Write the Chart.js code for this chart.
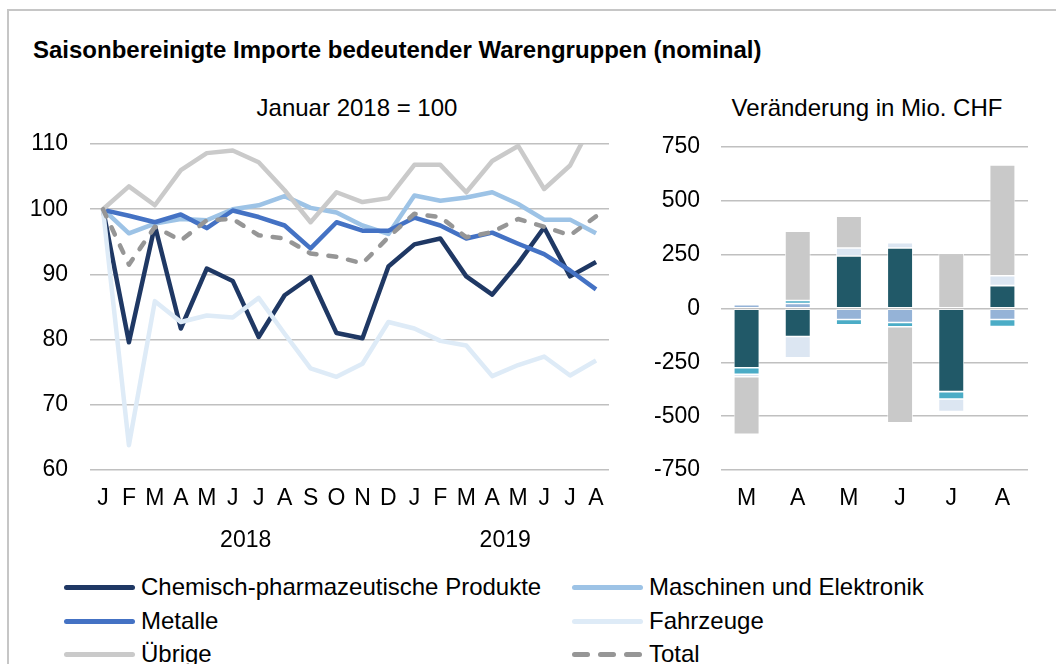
<!DOCTYPE html>
<html>
<head>
<meta charset="utf-8">
<script src="https://cdn.jsdelivr.net/npm/chart.js@4/dist/chart.umd.min.js"></script>
<style>
  body { margin: 0; background: #fff; font-family: 'Liberation Sans', Arial, sans-serif; color: #000; }
  #page { position: relative; width: 1056px; height: 664px; overflow: hidden; }
  #frame { position: absolute; left: 7px; top: 9px; width: 1200px; height: 800px; border: 2px solid #c6c6c6; }
  .abs { position: absolute; white-space: nowrap; }
  #title { left: 33px; top: 36px; font-size: 24px; font-weight: bold; line-height: 28px; }
  .sub { top: 94px; font-size: 24px; line-height: 28px; transform: translateX(-50%); }
  .leg { font-size: 24px; line-height: 28px; }
  .sample { position: absolute; height: 5px; border-radius: 3px; }
  canvas { position: absolute; }
</style>
</head>
<body>
<div id="page">
  <div id="frame"></div>
  <div id="title" class="abs">Saisonbereinigte Importe bedeutender Warengruppen (nominal)</div>
  <div class="abs sub" style="left:357px">Januar 2018 = 100</div>
  <div class="abs sub" style="left:867px">Veränderung in Mio. CHF</div>
  <canvas id="left" width="600" height="440" style="left:20px;top:126px"></canvas>
  <canvas id="right" width="426" height="440" style="left:630px;top:126px"></canvas>
  <div id="legend"></div>
</div>
<script>
const months = ['J', 'F', 'M', 'A', 'M', 'J', 'J', 'A', 'S', 'O', 'N', 'D',
                'J', 'F', 'M', 'A', 'M', 'J', 'J', 'A'];
const years = [{ label: '2018', from: 0, to: 11 }, { label: '2019', from: 12, to: 19 }];

// Januar 2018 = 100
const chemie =    [100, 79.6, 97.5, 81.7, 90.9, 89.0, 80.4, 86.8, 89.6, 81.0, 80.2, 91.2, 94.6, 95.5, 89.7, 86.9, 91.7, 97.2, 89.7, 91.9];
const maschinen = [100, 96.3, 97.8, 98.5, 98.3, 100.0, 100.6, 102.0, 100.2, 99.5, 97.5, 96.2, 102.1, 101.3, 101.8, 102.6, 100.8, 98.4, 98.4, 96.3];
const metalle =   [99.9, 99.0, 98.0, 99.2, 97.1, 99.8, 98.8, 97.5, 94.0, 98.0, 96.7, 96.7, 98.7, 97.5, 95.5, 96.4, 94.7, 93.1, 90.6, 87.7];
const fahrzeuge = [100, 63.8, 85.9, 82.7, 83.7, 83.4, 86.4, 80.9, 75.6, 74.3, 76.3, 82.7, 81.7, 79.8, 79.1, 74.4, 76.1, 77.4, 74.5, 76.8];
const uebrige =   [100, 103.5, 100.6, 106.0, 108.6, 109.0, 107.2, 102.9, 98.0, 102.6, 101.1, 101.7, 106.8, 106.8, 102.6, 107.4, 109.7, 103.1, 106.7, 114.4];
const total =     [100, 91.5, 97.3, 95.2, 98.3, 98.5, 96.0, 95.5, 93.2, 92.7, 91.7, 95.7, 99.3, 98.8, 95.7, 96.5, 98.5, 97.3, 96.0, 98.9];

// Veränderung in Mio. CHF
const barMonths = ['M', 'A', 'M', 'J', 'J', 'A'];
const chemieChg =    [-275, -130, 244, 281, -386, 106];
const maschinenChg = [18, 23, -51, -65, 0, -51];
const metalleChg =   [-30, 14, -25, -20, -34, -33];
const fahrzeugeChg = [-12, -99, 37, 25, -59, 46];
const uebrigeChg =   [-267, 322, 148, -446, 256, 515];

const FONT = "'Liberation Sans', Arial, sans-serif";
const GRID = '#c0c0c0';
const TICK_FONT = { family: FONT, size: 23 };

const lineSeries = [
  { label: 'Chemisch-pharmazeutische Produkte', data: chemie, color: '#1f3864' },
  { label: 'Maschinen und Elektronik', data: maschinen, color: '#9dc3e6' },
  { label: 'Metalle', data: metalle, color: '#4472c4' },
  { label: 'Fahrzeuge', data: fahrzeuge, color: '#deebf7' },
  { label: 'Übrige', data: uebrige, color: '#cacaca' },
  { label: 'Total', data: total, color: '#969696', dash: true }
];

// no automatic label overhang, so the plot areas sit where the padding says
const fixY = w => s => { s.width = w; s.paddingTop = 0; s.paddingBottom = 0; };
const fixX = h => s => { s.height = h; s.paddingLeft = 0; s.paddingRight = 0; };

const yearLabels = {
  id: 'yearLabels',
  afterDraw(chart) {
    const x = chart.scales.x;
    const ctx = chart.ctx;
    const step = x.getPixelForValue(1) - x.getPixelForValue(0);
    ctx.save();
    ctx.font = '23px ' + FONT;
    ctx.fillStyle = '#000';
    ctx.textAlign = 'center';
    ctx.textBaseline = 'middle';
    years.forEach(y => {
      const a = x.getPixelForValue(y.from) - step / 2;
      const b = x.getPixelForValue(y.to) + step / 2;
      ctx.fillText(y.label, (a + b) / 2, chart.chartArea.bottom + 71);
    });
    ctx.restore();
  }
};

new Chart(document.getElementById('left'), {
  type: 'line',
  data: {
    labels: months,
    datasets: lineSeries.map((s, i) => ({
      label: s.label,
      data: s.data,
      borderColor: s.color,
      borderWidth: 4.5,
      borderDash: s.dash ? [8, 12] : [],
      borderCapStyle: s.dash ? 'round' : 'butt',
      borderJoinStyle: 'round',
      pointRadius: 0,
      tension: 0,
      order: lineSeries.length - 1 - i,
      clip: { top: 0, left: 10, right: 10, bottom: 10 }
    }))
  },
  options: {
    responsive: false,
    animation: false,
    devicePixelRatio: 1,
    layout: { padding: { top: 18, right: 11, left: 0, bottom: 0 } },
    plugins: { legend: { display: false }, tooltip: { enabled: false } },
    scales: {
      x: {
        offset: true,
        grid: { display: false },
        border: { display: false },
        ticks: { font: TICK_FONT, color: '#000', padding: 7, maxRotation: 0, autoSkip: false },
        afterFit: fixX(96)
      },
      y: {
        min: 60,
        max: 110,
        ticks: { stepSize: 10, font: TICK_FONT, color: '#000', padding: 22 },
        grid: { color: GRID, lineWidth: 1.5, drawTicks: false },
        border: { display: false },
        afterFit: fixY(70)
      }
    }
  },
  plugins: [yearLabels]
});

const barSeries = [
  { label: 'Chemisch-pharmazeutische Produkte', data: chemieChg, color: '#215968' },
  { label: 'Maschinen und Elektronik', data: maschinenChg, color: '#95b3d7' },
  { label: 'Metalle', data: metalleChg, color: '#4bacc6' },
  { label: 'Fahrzeuge', data: fahrzeugeChg, color: '#dce6f2' },
  { label: 'Übrige', data: uebrigeChg, color: '#c9c9c9' }
];

new Chart(document.getElementById('right'), {
  type: 'bar',
  data: {
    labels: barMonths,
    datasets: barSeries.map(s => ({
      label: s.label,
      data: s.data,
      backgroundColor: s.color,
      borderColor: '#ffffff',
      borderWidth: 0.8,
      borderSkipped: false,
      barPercentage: 0.5,
      categoryPercentage: 1
    }))
  },
  options: {
    responsive: false,
    animation: false,
    devicePixelRatio: 1,
    layout: { padding: { top: 21, right: 28, left: 0, bottom: 0 } },
    plugins: { legend: { display: false }, tooltip: { enabled: false } },
    scales: {
      x: {
        stacked: true,
        grid: { display: false },
        border: { display: false },
        ticks: { font: TICK_FONT, color: '#000', padding: 7, maxRotation: 0 },
        afterFit: fixX(96)
      },
      y: {
        stacked: true,
        min: -750,
        max: 750,
        ticks: { stepSize: 250, font: TICK_FONT, color: '#000', padding: 21 },
        grid: { color: GRID, lineWidth: 1.5, drawTicks: false },
        border: { display: false },
        afterFit: fixY(91)
      }
    }
  }
});

// legend, two columns like the original
const legend = document.getElementById('legend');
const legendPos = [
  [64, 587], [572, 587],
  [64, 621], [572, 621],
  [64, 654], [572, 654]
];
lineSeries.forEach((s, k) => {
  const [x, y] = legendPos[k];
  if (s.dash) {
    for (let d = 0; d < 3; d++) {
      const el = document.createElement('div');
      el.className = 'sample';
      el.style.cssText = `left:${x + d * 26}px;top:${y - 2}px;width:18px;background:${s.color}`;
      legend.appendChild(el);
    }
  } else {
    const el = document.createElement('div');
    el.className = 'sample';
    el.style.cssText = `left:${x}px;top:${y - 2}px;width:71px;background:${s.color}`;
    legend.appendChild(el);
  }
  const t = document.createElement('div');
  t.className = 'abs leg';
  t.style.left = (x + 77) + 'px';
  t.style.top = (y - 14) + 'px';
  t.textContent = s.label;
  legend.appendChild(t);
});
</script>
</body>
</html>
